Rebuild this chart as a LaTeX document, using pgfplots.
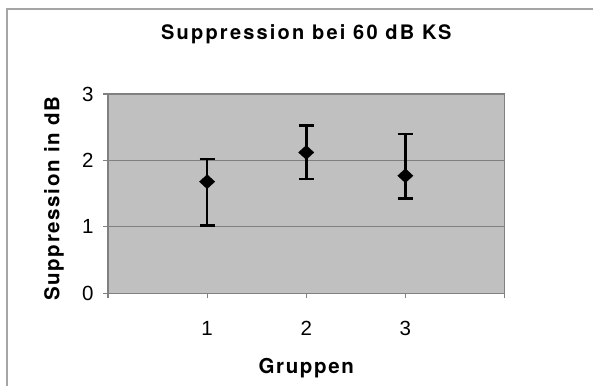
\documentclass[border=0pt]{standalone}
\usepackage{pgfplots}
\pgfplotsset{compat=1.18}
\usepackage{pgfplotstable}
\usepackage{fontspec}
\setmainfont{Liberation Sans}
\newfontfamily\labelfont{TeX Gyre Heros}[LetterSpace=8]
\newfontfamily\titlefont{TeX Gyre Heros}[LetterSpace=11]

\definecolor{plotbg}{RGB}{192,192,192}
\definecolor{axgray}{RGB}{128,128,128}
\definecolor{framegray}{RGB}{165,165,165}

% group, mean, upper and lower error
\pgfplotstableread{
x y ep em
1 1.68 0.34 0.66
2 2.12 0.41 0.40
3 1.77 0.63 0.34
}\suppdata

\begin{document}
\begin{tikzpicture}[x=1pt,y=1pt]
\useasboundingbox (0,0) rectangle (593,385);
\draw[framegray, line width=1.5pt] (7,-2) -- (7,376) -- (596,376);
\begin{axis}[
  at={(108pt,91.7pt)}, anchor=south west,
  scale only axis, width=396.5pt, height=199.3pt,
  xmin=0, xmax=4, ymin=0, ymax=3,
  xtick={0,1,2,3,4}, xticklabels={,1,2,3,},
  ytick={0,1,2,3},
  xtick pos=left, ytick pos=left,
  tick align=outside, major tick length=5pt,
  tick style={axgray, line width=1.2pt},
  axis background/.style={fill=plotbg},
  axis line style={axgray, line width=1.5pt},
  ymajorgrids, grid style={axgray, line width=1.2pt},
  /pgf/number format/assume math mode=true,
  tick label style={font=\fontsize{20.5}{24}\selectfont},
  xticklabel style={anchor=base, yshift=-42pt+5pt},
  yticklabel style={anchor=east, xshift=-6pt},
  title={Suppression bei 60 dB KS},
  title style={at={(0.5,1.242)}, anchor=base, font=\titlefont\bfseries\fontsize{20}{24}\selectfont},
  xlabel={Gruppen},
  xlabel style={at={(0.5,-0.40)}, anchor=base, font=\labelfont\bfseries\fontsize{20.5}{24}\selectfont},
  ylabel={Suppression in dB},
  ylabel style={at={(-0.136,0.475)}, anchor=center, rotate=0, font=\labelfont\bfseries\fontsize{20.5}{24}\selectfont},
]
\addplot[only marks, black, mark=diamond*, mark size=7pt,
  mark options={xscale=1.45, fill=black},
  error bars/.cd, y dir=both, y explicit,
  error bar style={black, line width=2.6pt},
  error mark options={black, rotate=90, mark size=7.5pt, line width=2.6pt}]
  table[x=x, y=y, y error plus=ep, y error minus=em] {\suppdata};
\end{axis}
\end{tikzpicture}
\end{document}
